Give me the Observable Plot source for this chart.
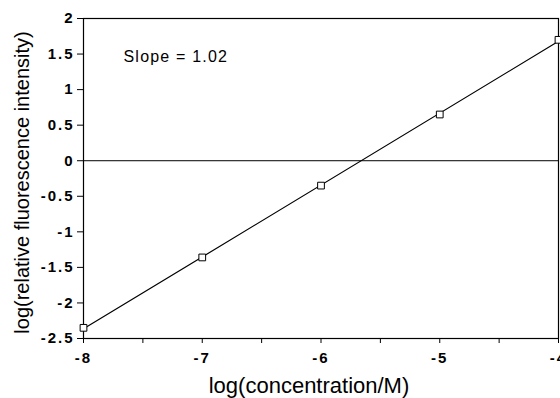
<!DOCTYPE html>
<html>
<head>
<meta charset="utf-8">
<script src="https://cdn.jsdelivr.net/npm/d3@7"></script>
<script src="https://cdn.jsdelivr.net/npm/@observablehq/plot@0.6"></script>
<style>
  html, body { margin: 0; padding: 0; background: #fff; }
  svg { display: block; }
</style>
</head>
<body>
<div id="chart"></div>
<script>
const logConc = [-8, -7, -6, -5, -4];
const logIntensity = [-2.35, -1.36, -0.35, 0.65, 1.70];
const xTicks = [-8, -7.5, -7, -6.5, -6, -5.5, -5, -4.5, -4];
const yTicks = [-2.5, -2, -1.5, -1, -0.5, 0, 0.5, 1, 1.5, 2];
const annotation = "Slope = 1.02";
const xTitle = "log(concentration/M)";
const yTitle = "log(relative fluorescence intensity)";

const data = logConc.map((x, i) => ({x, y: logIntensity[i]}));

const chart = Plot.plot({
  width: 560,
  height: 398,
  marginLeft: 83,
  marginRight: 2,
  marginTop: 18,
  marginBottom: 60,
  style: {fontFamily: "'Liberation Sans', Arial, sans-serif", background: "#fff", color: "#000"},
  x: {domain: [-8, -4]},
  y: {domain: [-2.5, 2]},
  marks: [
    Plot.frame({stroke: "#000", strokeWidth: 1.2}),
    Plot.ruleY([0], {stroke: "#000", strokeWidth: 1}),
    Plot.axisY({ticks: yTicks, tickSize: 6, tickPadding: 3, tickFormat: d => String(d),
      fontSize: 15, fontWeight: "bold", label: null}),
    Plot.axisX({ticks: xTicks, tickSize: 5, tickPadding: 9,
      tickFormat: d => Number.isInteger(d) ? String(d) : "",
      fontSize: 15, fontWeight: "bold", label: null}),
    Plot.linearRegressionY(data, {x: "x", y: "y", ci: 0, stroke: "#000", strokeWidth: 1.2}),
    Plot.dot(data, {x: "x", y: "y", symbol: "square", r: 3.8, stroke: "#000", strokeWidth: 1, fill: "#fff"}),
    Plot.text([annotation], {frameAnchor: "top-left", dx: 40, dy: 38, text: d => d,
      fontSize: 16, textAnchor: "start", lineAnchor: "middle"}),
    Plot.text([xTitle], {frameAnchor: "bottom", dx: -12, dy: 47, text: d => d, fontSize: 22, lineAnchor: "middle"}),
    Plot.text([yTitle], {frameAnchor: "left", dx: -61, dy: 4, rotate: -90, text: d => d, fontSize: 20,
      textAnchor: "middle", lineAnchor: "middle"})
  ]
});
// widen the tick labels and annotation slightly, like the scanned original
const tickTexts = new Set([...xTicks, ...yTicks].map(String));
d3.select(chart).selectAll("text")
  .filter(function() { return tickTexts.has(this.textContent); })
  .attr("font-size", 15)
  .attr("font-weight", "bold")
  .attr("letter-spacing", "2px");
d3.select(chart).selectAll("text")
  .filter(function() { return this.textContent === annotation; })
  .attr("letter-spacing", "1.2px");
document.getElementById("chart").appendChild(chart);
</script>
</body>
</html>
